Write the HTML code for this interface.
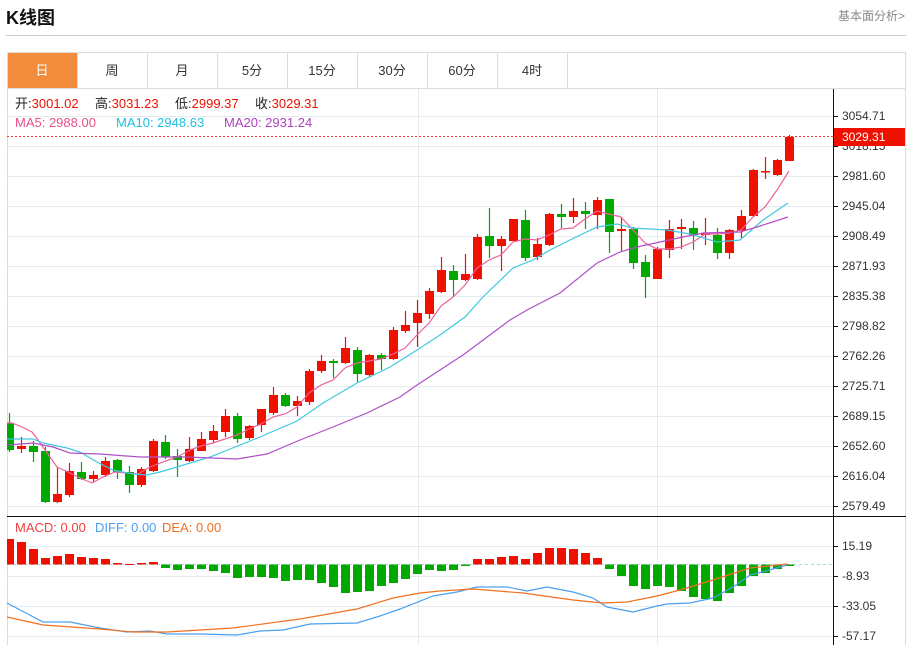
<!DOCTYPE html>
<html><head><meta charset="utf-8">
<style>
html,body{margin:0;padding:0;background:#fff;width:912px;height:645px;overflow:hidden;font-family:"Liberation Sans","Noto Sans CJK SC",sans-serif;}
.t{position:absolute;white-space:nowrap;}
</style></head><body>
<div class="t" style="left:6px;top:4px;font-size:18px;font-weight:bold;color:#111;">K线图</div>
<div class="t" style="left:838px;top:7px;font-size:12px;color:#888;">基本面分析&gt;</div>
<div style="position:absolute;left:6px;top:35px;width:900px;height:1px;background:#ccc"></div>
<svg id="s" width="912" height="645" style="position:absolute;left:0;top:0" xmlns="http://www.w3.org/2000/svg">
<rect x="7.5" y="52.5" width="898" height="600" fill="none" stroke="#dcdcdc"/>
<line x1="7" y1="88.5" x2="906" y2="88.5" stroke="#dcdcdc"/>
<rect x="8" y="53" width="69" height="35" fill="#f28c3c"/>
<g stroke="#dcdcdc"><line x1="77.5" y1="53" x2="77.5" y2="88"/><line x1="147.5" y1="53" x2="147.5" y2="88"/><line x1="217.5" y1="53" x2="217.5" y2="88"/><line x1="287.5" y1="53" x2="287.5" y2="88"/><line x1="357.5" y1="53" x2="357.5" y2="88"/><line x1="427.5" y1="53" x2="427.5" y2="88"/><line x1="497.5" y1="53" x2="497.5" y2="88"/><line x1="567.5" y1="53" x2="567.5" y2="88"/></g>
<g font-size="13" text-anchor="middle" fill="#333" font-family="Liberation Sans,Noto Sans CJK SC,sans-serif">
<text x="42" y="75" fill="#fff">日</text><text x="112" y="75">周</text><text x="182" y="75">月</text><text x="252" y="75">5分</text><text x="322" y="75">15分</text><text x="392" y="75">30分</text><text x="462" y="75">60分</text><text x="532" y="75">4时</text>
</g>
<g id="grid" stroke="#e4ecf2" stroke-width="1"></g>
<g id="plot"></g>
<line x1="7" y1="516.5" x2="906" y2="516.5" stroke="#111"/>
<line x1="833.5" y1="89" x2="833.5" y2="645" stroke="#111"/>
<line x1="7" y1="136.5" x2="833" y2="136.5" stroke="#f33" stroke-dasharray="2,2"/>
<g id="ax" font-size="12" fill="#333" font-family="Liberation Sans,sans-serif">
<text x="842" y="120">3054.71</text><text x="842" y="150">3018.15</text><text x="842" y="180">2981.60</text><text x="842" y="210">2945.04</text><text x="842" y="240">2908.49</text><text x="842" y="270">2871.93</text><text x="842" y="300">2835.38</text><text x="842" y="330">2798.82</text><text x="842" y="360">2762.26</text><text x="842" y="390">2725.71</text><text x="842" y="420">2689.15</text><text x="842" y="450">2652.60</text><text x="842" y="480">2616.04</text><text x="842" y="510">2579.49</text>
<text x="842" y="550">15.19</text><text x="842" y="580">-8.93</text><text x="842" y="610">-33.05</text><text x="842" y="640">-57.17</text>
</g>
<rect x="834" y="128" width="71" height="18" fill="#f01000"/>
<text x="842" y="141" font-size="12" fill="#fff" font-family="Liberation Sans,sans-serif">3029.31</text>
<g font-size="13" font-family="Liberation Sans,Noto Sans CJK SC,sans-serif">
<text x="15" y="108" fill="#222">开:<tspan fill="#f01000">3001.02</tspan></text>
<text x="95" y="108" fill="#222">高:<tspan fill="#f01000">3031.23</tspan></text>
<text x="175" y="108" fill="#222">低:<tspan fill="#f01000">2999.37</tspan></text>
<text x="255" y="108" fill="#222">收:<tspan fill="#f01000">3029.31</tspan></text>
<text x="15" y="127" fill="#e8508a">MA5: 2988.00</text>
<text x="116" y="127" fill="#20c0e0">MA10: 2948.63</text>
<text x="224" y="127" fill="#b040c0">MA20: 2931.24</text>
<text x="15" y="532" fill="#f04040">MACD: 0.00</text>
<text x="95" y="532" fill="#4aa0f0">DIFF: 0.00</text>
<text x="162" y="532" fill="#f07020">DEA: 0.00</text>
</g>
</svg>
<script>
var NS="http://www.w3.org/2000/svg";
function el(p,n,a){var e=document.createElementNS(NS,n);for(var k in a)e.setAttribute(k,a[k]);p.appendChild(e);return e;}
var g=document.getElementById('grid'),p=document.getElementById('plot'),ax=document.getElementById('ax');
for(var y=116;y<=506;y+=30){el(g,'line',{x1:7,x2:833,y1:y+.5,y2:y+.5});el(ax,'line',{x1:833,x2:838,y1:y+.5,y2:y+.5,stroke:'#111'});}
[546,576,606,636].forEach(function(y){el(g,'line',{x1:7,x2:833,y1:y+.5,y2:y+.5});el(ax,'line',{x1:833,x2:838,y1:y+.5,y2:y+.5,stroke:'#111'});});
[418,657].forEach(function(x){el(g,'line',{x1:x+.5,x2:x+.5,y1:89,y2:645});});
var C=[[423,450,413,452,0],[446,449,437,453,1],[446,452,441,462,0],[451,502,447,503,0],[494,502,467,503,1],[471,495,463,497,1],[472,479,462,480,0],[475,479,471,482,1],[461,475,457,477,1],[460,472,459,479,0],[472,485,466,493,0],[469,485,467,487,1],[441,471,439,472,1],[442,457,435,459,0],[456,460,449,477,0],[449,461,437,462,1],[439,451,432,451,1],[431,440,425,443,1],[416,432,409,437,1],[416,439,413,443,0],[426,438,425,440,1],[409,425,409,432,1],[395,413,387,415,1],[395,406,393,407,0],[401,406,396,416,1],[371,402,369,405,1],[361,371,355,373,1],[361,363,359,378,0],[348,363,337,364,1],[350,374,347,382,0],[355,375,354,377,1],[355,359,353,370,0],[330,359,327,360,1],[325,331,311,333,1],[313,323,300,347,1],[291,314,288,319,1],[270,292,257,293,1],[271,280,265,297,0],[274,280,254,281,1],[237,279,234,280,1],[236,246,208,258,0],[239,246,236,271,1],[219,241,219,241,1],[220,258,210,261,0],[244,257,238,260,1],[214,245,213,246,1],[214,217,204,228,0],[211,217,198,223,1],[211,214,202,229,0],[200,215,197,229,1],[199,232,199,253,0],[229,231,217,251,1],[229,263,227,269,0],[262,277,255,298,0],[249,279,247,279,1],[229,250,220,258,1],[227,229,219,249,1],[228,235,221,250,0],[233,235,218,245,1],[235,253,228,259,0],[230,253,229,259,1],[216,231,210,238,1],[170,216,169,217,1],[171,172,157,179,1],[160,175,159,176,1],[137,161,135,161,1]];
var M=[539,542,549,558,556,554,557,558,559,563,564,563,562,568,570,569,569,571,573,578,577,577,578,581,580,580,583,587,593,592,591,586,583,579,574,570,571,570,566,559,559,557,556,559,553,548,548,549,553,558,569,576,586,589,586,587,591,597,599,601,593,586,576,573,569,566];
var R='#f01000',G='#00a800',Z=564.5;
el(p,'line',{x1:7,x2:833,y1:Z,y2:Z,stroke:'#a8d8ee','stroke-dasharray':'3,3'});
for(var i=0;i<C.length;i++){var c=C[i],cx=9.5+12*i,col=c[4]?R:G;
 el(p,'line',{x1:cx,x2:cx,y1:c[2],y2:c[3],stroke:col,'stroke-width':1.2});
 var x0=Math.max(7,cx-4.5);el(p,'rect',{x:x0,y:c[0],width:cx+4.5-x0,height:Math.max(1.5,c[1]-c[0]),fill:col});
 var m=M[i];var bt=Math.min(m,Z),bh=Math.max(1,Math.abs(m-Z));
 el(p,'rect',{x:x0,y:bt,width:cx+4.5-x0,height:bh,fill:m<Z?R:G});}
function line(pts,col){el(p,'polyline',{points:pts,fill:'none',stroke:col,'stroke-width':1.2});}
line("7,423 12,423 22,427 32,432 38,440 50,457 57,467 68,472 80,478 92,483 103,477 115,472 127,473 138,474 150,467 163,462 177,457 190,450 201,446 213,443 225,439 237,435 249,429 261,424 273,417 285,414 297,407 309,393 321,385 333,380 345,368 357,363 369,361 381,359 393,354 405,348 417,335 429,323 441,306 453,297 465,285 477,268 489,260 501,255 513,242 525,239 537,240 549,235 561,229 573,228 585,219 597,211 609,214 621,217 633,230 645,243 657,249 669,249 681,247 693,242 705,234 717,234 729,233 741,230 753,217 765,207 777,190 789,171",'#f0609a');
line("7,439 33,439 43,443 67,448 80,452 97,462 113,470 133,474 147,475 160,472 177,467 190,463 210,457 230,449 260,437 297,421 323,403 357,383 390,367 417,350 440,335 465,317 483,297 513,268 533,260 550,250 570,240 597,227 617,224 633,228 667,230 690,234 717,242 740,240 763,220 788,203",'#40c8e0');
line("7,445 33,443 53,447 70,453 100,454 140,457 187,457 237,459 267,454 300,440 333,427 367,413 400,397 417,385 463,355 510,320 527,310 560,293 597,263 620,252 637,247 683,237 703,233 740,232 757,227 788,217",'#b050c8');
line("7,603 43,622 70,622 100,628 127,632 150,631 167,634 200,634 237,635 260,631 283,630 310,624 357,623 380,616 400,609 433,596 457,592 477,587 507,587 527,591 547,587 573,592 593,598 607,607 633,612 657,606 667,604 690,603 713,598 733,587 750,575 773,569 787,565",'#4aa0f0');
line("7,617 43,625 100,629 133,632 167,632 233,628 300,619 357,609 393,598 420,593 440,591 473,589 523,593 573,600 603,603 627,602 657,596 680,590 713,580 750,568 787,564",'#f07020');
</script>
</body></html>
